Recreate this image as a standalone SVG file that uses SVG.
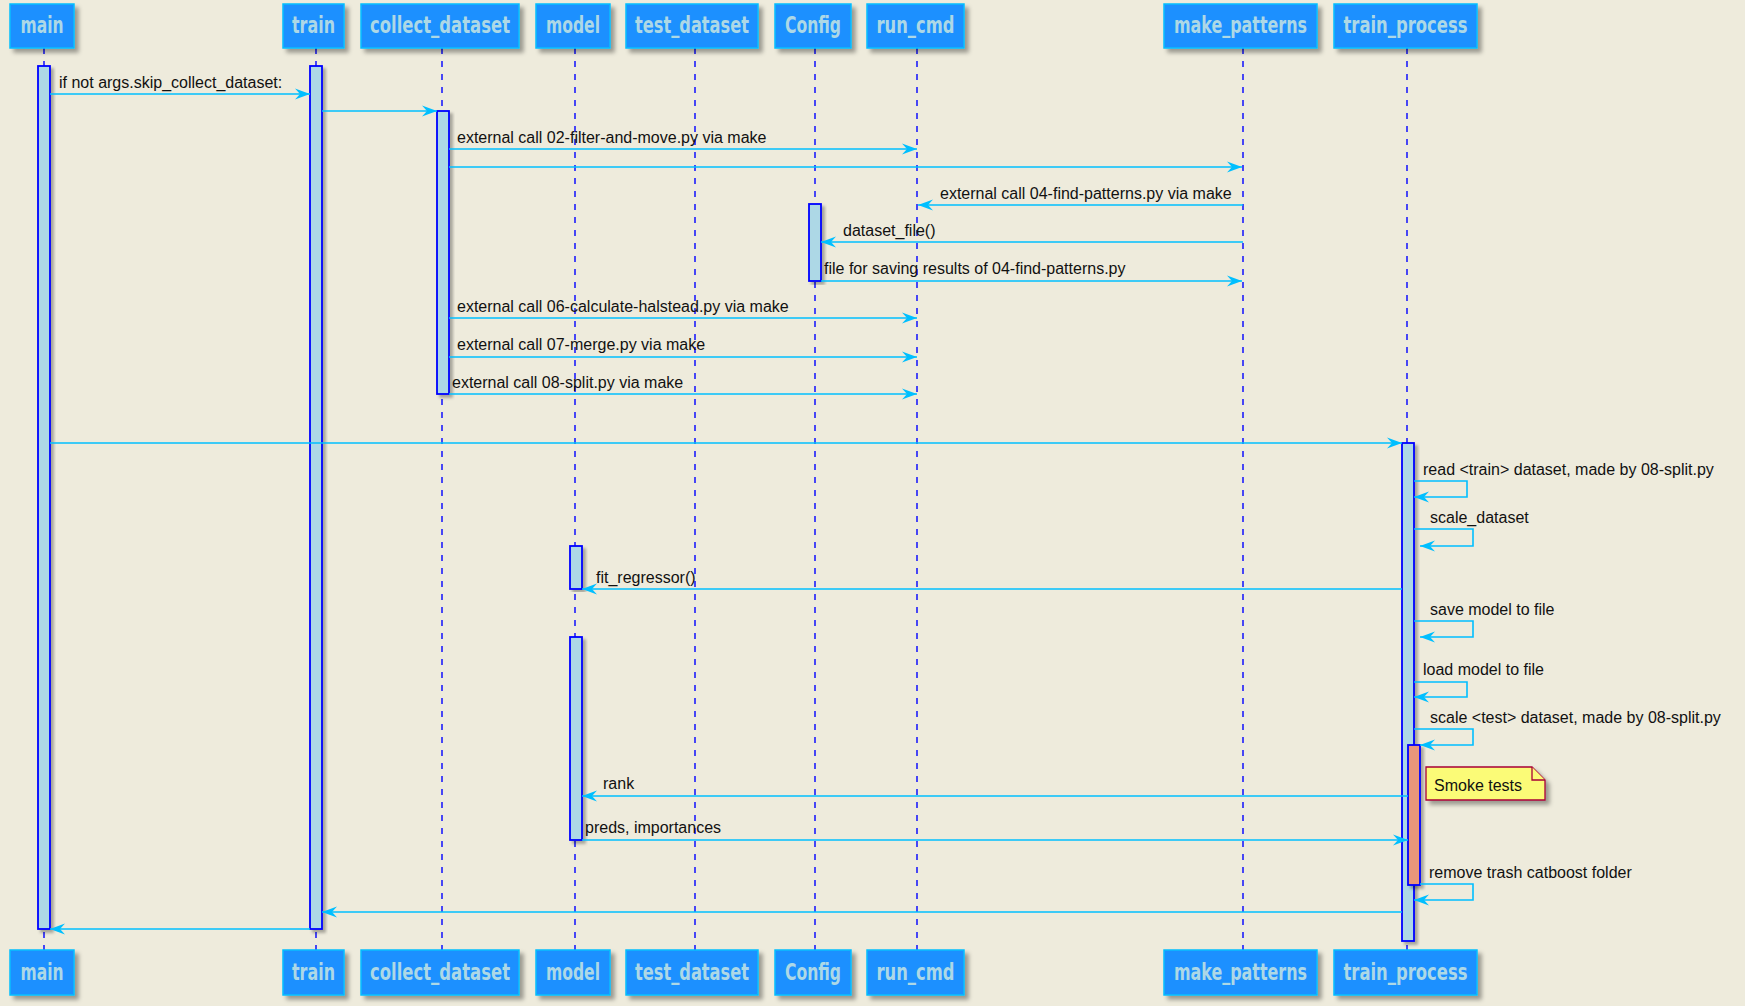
<svg xmlns="http://www.w3.org/2000/svg" width="1745" height="1006" viewBox="0 0 1745 1006">
<defs>
<style>
.pbox{fill:#1E90FF;stroke:#00BFFF;stroke-width:1.5;filter:url(#sh)}
.ptxt{fill:#ADD8E6;font-family:"DejaVu Sans Condensed","Liberation Sans Narrow","Liberation Sans",sans-serif;font-weight:bold;font-size:23px;text-anchor:middle}
.life{stroke:#0000FF;stroke-width:1.4;stroke-dasharray:6,7;fill:none}
.act{fill:#ADD8E6;stroke:#0000FF;stroke-width:1.8;filter:url(#sh2)}
.act2{fill:#E9967A;stroke:#0000FF;stroke-width:1.8;filter:url(#sh2)}
.msg{stroke:#00BFFF;stroke-width:1.6;fill:none;marker-end:url(#ah)}
.lbl{fill:#111;font-family:"Liberation Sans",Arial,sans-serif;font-size:16px}
.note{fill:#FBFB77;stroke:#A80036;stroke-width:1.3}
</style>
<filter id="sh" x="-10%" y="-10%" width="130%" height="140%">
<feDropShadow dx="4" dy="4" stdDeviation="2" flood-color="#000" flood-opacity="0.35"/>
</filter>
<filter id="sh2" x="-50%" y="-5%" width="200%" height="110%">
<feDropShadow dx="3" dy="3" stdDeviation="1.5" flood-color="#000" flood-opacity="0.3"/>
</filter>
<marker id="ah" markerUnits="userSpaceOnUse" markerWidth="18" markerHeight="14" refX="16" refY="7" orient="auto">
<path d="M16,7 L1,1.5 L6,7 L1,12.5 Z" fill="#00BFFF"/>
</marker>
</defs>
<rect x="0" y="0" width="1745" height="1006" fill="#EEEBDC"/>

<g id="lifelines">
<line class="life" x1="44" y1="48" x2="44" y2="950"/>
<line class="life" x1="316" y1="48" x2="316" y2="950"/>
<line class="life" x1="442" y1="48" x2="442" y2="950"/>
<line class="life" x1="575" y1="48" x2="575" y2="950"/>
<line class="life" x1="695" y1="48" x2="695" y2="950"/>
<line class="life" x1="815" y1="48" x2="815" y2="950"/>
<line class="life" x1="917" y1="48" x2="917" y2="950"/>
<line class="life" x1="1243" y1="48" x2="1243" y2="950"/>
<line class="life" x1="1407" y1="48" x2="1407" y2="950"/>
</g>

<g id="main">
<rect class="pbox" x="10" y="4" width="64" height="44"/>
<text class="ptxt" x="42" y="33" textLength="43" lengthAdjust="spacingAndGlyphs">main</text>
<rect class="pbox" x="10" y="950" width="64" height="45"/>
<text class="ptxt" x="42" y="980" textLength="43" lengthAdjust="spacingAndGlyphs">main</text>
</g>
<g id="train">
<rect class="pbox" x="283" y="4" width="61" height="44"/>
<text class="ptxt" x="313.5" y="33" textLength="43" lengthAdjust="spacingAndGlyphs">train</text>
<rect class="pbox" x="283" y="950" width="61" height="45"/>
<text class="ptxt" x="313.5" y="980" textLength="43" lengthAdjust="spacingAndGlyphs">train</text>
</g>
<g id="collect_dataset">
<rect class="pbox" x="361" y="4" width="158" height="44"/>
<text class="ptxt" x="440" y="33" textLength="140" lengthAdjust="spacingAndGlyphs">collect_dataset</text>
<rect class="pbox" x="361" y="950" width="158" height="45"/>
<text class="ptxt" x="440" y="980" textLength="140" lengthAdjust="spacingAndGlyphs">collect_dataset</text>
</g>
<g id="model">
<rect class="pbox" x="536" y="4" width="74" height="44"/>
<text class="ptxt" x="573" y="33" textLength="54" lengthAdjust="spacingAndGlyphs">model</text>
<rect class="pbox" x="536" y="950" width="74" height="45"/>
<text class="ptxt" x="573" y="980" textLength="54" lengthAdjust="spacingAndGlyphs">model</text>
</g>
<g id="test_dataset">
<rect class="pbox" x="626" y="4" width="132" height="44"/>
<text class="ptxt" x="692" y="33" textLength="114" lengthAdjust="spacingAndGlyphs">test_dataset</text>
<rect class="pbox" x="626" y="950" width="132" height="45"/>
<text class="ptxt" x="692" y="980" textLength="114" lengthAdjust="spacingAndGlyphs">test_dataset</text>
</g>
<g id="Config">
<rect class="pbox" x="775" y="4" width="76" height="44"/>
<text class="ptxt" x="813" y="33" textLength="56" lengthAdjust="spacingAndGlyphs">Config</text>
<rect class="pbox" x="775" y="950" width="76" height="45"/>
<text class="ptxt" x="813" y="980" textLength="56" lengthAdjust="spacingAndGlyphs">Config</text>
</g>
<g id="run_cmd">
<rect class="pbox" x="867" y="4" width="97" height="44"/>
<text class="ptxt" x="915.5" y="33" textLength="78" lengthAdjust="spacingAndGlyphs">run_cmd</text>
<rect class="pbox" x="867" y="950" width="97" height="45"/>
<text class="ptxt" x="915.5" y="980" textLength="78" lengthAdjust="spacingAndGlyphs">run_cmd</text>
</g>
<g id="make_patterns">
<rect class="pbox" x="1164" y="4" width="153" height="44"/>
<text class="ptxt" x="1240.5" y="33" textLength="133" lengthAdjust="spacingAndGlyphs">make_patterns</text>
<rect class="pbox" x="1164" y="950" width="153" height="45"/>
<text class="ptxt" x="1240.5" y="980" textLength="133" lengthAdjust="spacingAndGlyphs">make_patterns</text>
</g>
<g id="train_process">
<rect class="pbox" x="1334" y="4" width="143" height="44"/>
<text class="ptxt" x="1405.5" y="33" textLength="124" lengthAdjust="spacingAndGlyphs">train_process</text>
<rect class="pbox" x="1334" y="950" width="143" height="45"/>
<text class="ptxt" x="1405.5" y="980" textLength="124" lengthAdjust="spacingAndGlyphs">train_process</text>
</g>

<g id="activations">
<rect class="act" x="38" y="66" width="12" height="863"/>
<rect class="act" x="310" y="66" width="12" height="863"/>
<rect class="act" x="437" y="111" width="12" height="283"/>
<rect class="act" x="809" y="204" width="12" height="77"/>
<rect class="act" x="570" y="546" width="12" height="43"/>
<rect class="act" x="570" y="637" width="12" height="203"/>
<rect class="act" x="1402" y="443" width="12" height="498"/>
<rect class="act2" x="1408" y="745" width="12" height="140"/>
</g>

<g id="connectors">
<path class="msg" d="M50,94 H310"/>
<text class="lbl" x="59" y="88">if not args.skip_collect_dataset:</text>
<path class="msg" d="M322,111 H437"/>
<path class="msg" d="M449,149 H917"/>
<text class="lbl" x="457" y="143">external call 02-filter-and-move.py via make</text>
<path class="msg" d="M449,167 H1242"/>
<path class="msg" d="M1243,205 H918"/>
<text class="lbl" x="940" y="199">external call 04-find-patterns.py via make</text>
<path class="msg" d="M1243,242 H821"/>
<text class="lbl" x="843" y="236">dataset_file()</text>
<path class="msg" d="M821,281 H1242"/>
<text class="lbl" x="824" y="274">file for saving results of 04-find-patterns.py</text>
<path class="msg" d="M449,318 H917"/>
<text class="lbl" x="457" y="312">external call 06-calculate-halstead.py via make</text>
<path class="msg" d="M449,357 H917"/>
<text class="lbl" x="457" y="350">external call 07-merge.py via make</text>
<path class="msg" d="M449,394 H917"/>
<text class="lbl" x="452" y="388">external call 08-split.py via make</text>
<path class="msg" d="M50,443 H1402"/>
<path class="msg" d="M1414,481 H1467 V497 H1414"/>
<text class="lbl" x="1423" y="475">read &lt;train&gt; dataset, made by 08-split.py</text>
<path class="msg" d="M1414,529 H1473 V546 H1420"/>
<text class="lbl" x="1430" y="523">scale_dataset</text>
<path class="msg" d="M1402,589 H582"/>
<text class="lbl" x="596" y="583">fit_regressor()</text>
<path class="msg" d="M1414,621 H1473 V637 H1420"/>
<text class="lbl" x="1430" y="615">save model to file</text>
<path class="msg" d="M1414,682 H1467 V697 H1414"/>
<text class="lbl" x="1423" y="675">load model to file</text>
<path class="msg" d="M1414,729 H1473 V745 H1420"/>
<text class="lbl" x="1430" y="723">scale &lt;test&gt; dataset, made by 08-split.py</text>
<path class="msg" d="M1408,796 H582"/>
<text class="lbl" x="603" y="789">rank</text>
<path class="msg" d="M582,840 H1408"/>
<text class="lbl" x="585" y="833">preds, importances</text>
<path class="msg" d="M1420,884 H1473 V900 H1414"/>
<text class="lbl" x="1429" y="878">remove trash catboost folder</text>
<path class="msg" d="M1402,912 H322"/>
<path class="msg" d="M310,929 H50"/>
</g>

<g id="note-smoke">
<path class="note" filter="url(#sh)" d="M1426,767 H1532 L1545,780 V800 H1426 Z"/>
<path class="note" d="M1532,767 V780 H1545" fill="none"/>
<text class="lbl" x="1434" y="791">Smoke tests</text>
</g>
</svg>
